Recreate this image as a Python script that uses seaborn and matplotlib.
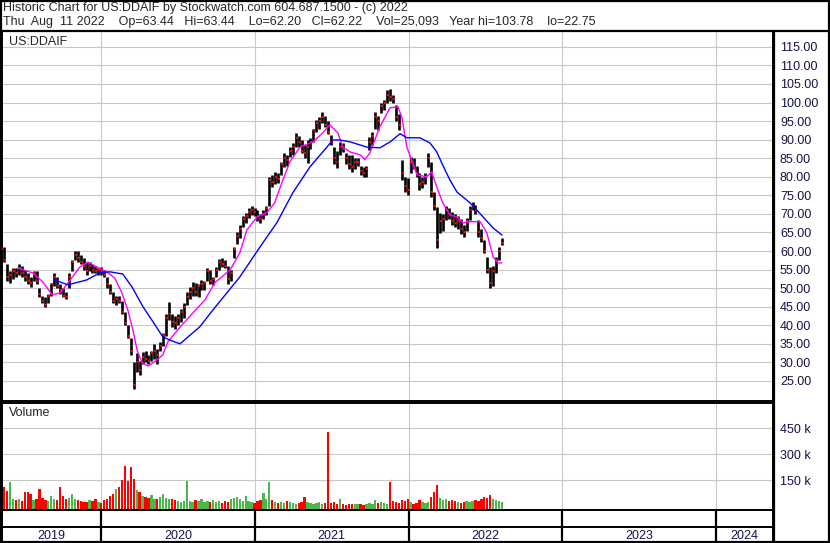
import numpy as np
import pandas as pd
import matplotlib
matplotlib.use("Agg")
import matplotlib.pyplot as plt
from matplotlib.lines import Line2D
from matplotlib.ticker import FuncFormatter
import seaborn as sns

# Weekly bars, the last one is Thu Aug 11 2022
bar_dates = pd.date_range(end="2022-08-11", periods=171, freq="7D")

bar_high = [63.5, 61.0, 56.5, 54.5, 55.5, 55.5, 56.5, 56.0, 55.0, 54.0,
            53.0, 54.5, 54.5, 50.0, 48.0, 47.5, 48.5, 51.5, 54.0, 53.0,
            51.0, 50.0, 49.0, 54.0, 57.5, 60.0, 60.0, 59.0, 58.0, 57.0,
            57.0, 56.5, 56.0, 55.5, 55.7, 55.0, 53.0, 51.0, 49.0, 48.0,
            48.0, 46.5, 43.5, 40.0, 36.5, 30.0, 32.5, 30.5, 32.8, 33.0,
            32.0, 33.0, 35.0, 33.5, 35.5, 38.0, 43.0, 46.3, 43.0, 42.5,
            43.0, 44.5, 46.0, 49.0, 50.3, 51.7, 51.5, 51.0, 52.2, 52.0,
            55.4, 55.0, 53.0, 55.7, 57.9, 58.0, 57.5, 56.0, 55.0, 61.0,
            65.0, 67.0, 69.5, 70.3, 71.5, 72.0, 71.5, 71.0, 70.0, 71.0,
            72.2, 80.0, 80.5, 81.3, 81.0, 84.0, 86.4, 86.0, 88.0, 89.0,
            91.8, 91.0, 90.0, 88.5, 90.0, 90.5, 93.0, 95.3, 96.0, 97.5,
            96.5, 95.0, 91.3, 88.0, 87.0, 89.4, 89.0, 86.5, 86.0, 86.0,
            85.0, 85.0, 83.0, 82.7, 83.0, 90.7, 92.0, 97.5, 96.5, 100.0,
            100.7, 103.4, 103.78, 102.0, 99.4, 97.0, 84.6, 80.0, 79.7, 85.4,
            85.0, 83.0, 81.0, 80.0, 81.0, 86.4, 84.0, 76.0, 71.9, 70.3,
            70.0, 72.0, 71.5, 70.5, 70.0, 69.5, 68.5, 67.0, 69.0, 72.0,
            73.2, 72.5, 68.4, 66.0, 63.0, 58.4, 55.7, 56.0, 58.4, 61.0, 63.5]

bar_low = [59.0, 57.0, 52.0, 51.5, 52.5, 53.0, 53.5, 53.0, 52.0, 51.0,
           50.3, 52.0, 51.0, 47.5, 46.0, 45.0, 46.0, 48.0, 50.5, 50.0,
           48.5, 47.5, 47.0, 50.0, 54.5, 57.5, 57.0, 56.5, 55.0, 53.5,
           54.5, 54.0, 54.0, 53.5, 53.6, 53.0, 50.0, 48.5, 46.0, 45.5,
           46.0, 43.0, 40.0, 36.6, 32.0, 22.75, 27.5, 26.5, 29.5, 30.0,
           29.5, 30.5, 31.0, 29.5, 33.0, 34.5, 37.0, 41.5, 39.5, 39.0,
           40.0, 41.0, 42.0, 45.5, 47.0, 48.0, 48.0, 47.6, 49.5, 49.5,
           52.0, 51.0, 50.9, 53.0, 55.0, 55.7, 55.5, 51.0, 52.0, 58.0,
           62.0, 63.5, 66.5, 67.5, 69.0, 69.7, 69.5, 68.0, 67.6, 68.5,
           69.7, 72.0, 77.3, 78.0, 78.4, 80.5, 82.7, 83.0, 85.4, 86.0,
           88.0, 88.0, 86.4, 85.0, 83.7, 87.5, 89.5, 92.0, 93.0, 94.5,
           93.5, 91.5, 88.6, 83.5, 82.4, 86.0, 86.7, 83.5, 82.0, 81.3,
           82.0, 83.0, 80.5, 80.0, 80.0, 87.2, 88.5, 93.0, 92.6, 97.2,
           98.0, 100.0, 100.5, 99.9, 95.0, 92.6, 79.2, 76.0, 75.1, 81.0,
           82.0, 80.0, 76.5, 77.0, 78.0, 82.7, 74.6, 71.0, 60.8, 64.9,
           65.5, 68.4, 68.5, 67.0, 66.5, 66.0, 64.5, 63.8, 65.5, 68.4,
           71.0, 70.0, 63.8, 62.5, 59.5, 54.1, 50.0, 50.5, 54.0, 57.5, 61.6]

bar_close = [60.5, 57.5, 53.0, 53.5, 54.5, 54.0, 55.5, 54.0, 53.0, 52.0,
             51.5, 54.0, 52.0, 48.5, 46.5, 45.5, 48.0, 51.0, 53.0, 50.5,
             49.5, 48.0, 47.5, 53.0, 57.0, 59.0, 58.0, 57.0, 56.0, 54.5,
             56.0, 55.0, 54.5, 55.0, 54.5, 53.5, 51.0, 49.0, 46.5, 47.0,
             46.5, 43.5, 40.5, 37.0, 33.0, 24.0, 30.0, 28.0, 31.5, 31.0,
             30.5, 32.5, 33.0, 32.0, 34.5, 37.5, 42.0, 43.0, 41.0, 40.5,
             42.0, 43.5, 45.0, 47.5, 49.0, 50.0, 49.0, 50.5, 51.0, 51.5,
             54.5, 52.0, 52.5, 55.0, 57.0, 56.5, 56.0, 52.5, 54.0, 60.5,
             64.0, 66.0, 68.5, 69.5, 70.5, 71.0, 70.5, 69.5, 68.5, 70.0,
             71.5, 79.0, 78.5, 80.0, 79.5, 83.5, 85.0, 84.5, 87.0, 88.0,
             90.5, 89.5, 87.0, 86.5, 88.0, 89.5, 92.5, 94.5, 95.0, 96.0,
             94.0, 92.0, 89.5, 85.0, 84.0, 88.0, 87.5, 85.0, 83.5, 82.5,
             84.0, 84.0, 81.5, 81.0, 82.0, 89.5, 91.0, 96.0, 95.0, 99.0,
             100.0, 102.0, 101.5, 101.0, 96.0, 94.0, 81.0, 77.5, 76.5, 84.0,
             83.0, 81.0, 78.0, 78.5, 80.0, 85.0, 76.0, 72.0, 63.0, 68.0,
             68.5, 71.0, 70.0, 68.0, 67.5, 68.0, 66.0, 65.0, 68.0, 71.0,
             72.0, 71.0, 65.0, 63.5, 60.0, 55.0, 51.5, 54.5, 57.5, 60.0, 62.22]

# volume in thousands
volume_k = [100, 110, 90, 140, 40, 35, 45, 30, 80, 80,
            70, 35, 45, 100, 50, 35, 30, 60, 40, 35,
            110, 60, 45, 50, 70, 45, 35, 30, 25, 25,
            35, 30, 40, 25, 20, 35, 45, 60, 70, 100,
            110, 150, 235, 145, 225, 160, 95, 80, 60, 55,
            50, 65, 45, 40, 55, 70, 50, 45, 40, 35,
            30, 25, 30, 145, 30, 25, 35, 30, 40, 25,
            30, 25, 35, 25, 30, 20, 30, 25, 45, 50,
            55, 45, 30, 60, 30, 25, 20, 30, 35, 75,
            45, 140, 35, 25, 20, 25, 20, 30, 25, 20,
            15, 20, 25, 55, 25, 20, 15, 20, 25, 15,
            20, 430, 20, 25, 15, 40, 15, 10, 15, 12,
            15, 12, 15, 10, 15, 20, 15, 35, 20, 25,
            20, 15, 140, 30, 25, 20, 35, 30, 40, 25,
            15, 20, 35, 25, 20, 25, 55, 80, 125, 50,
            35, 40, 30, 35, 30, 25, 20, 25, 30, 25,
            30, 35, 30, 45, 55, 50, 65, 45, 35, 30, 25]

# moving averages
ma_fast_dates = ["2019-06-18", "2019-07-23", "2019-08-16", "2019-09-07", "2019-09-26",
                 "2019-10-15", "2019-11-12", "2019-12-01", "2019-12-22", "2020-01-15",
                 "2020-02-03", "2020-02-20", "2020-03-05", "2020-03-17", "2020-03-27",
                 "2020-04-07", "2020-04-22", "2020-05-13", "2020-05-27", "2020-06-08",
                 "2020-07-07", "2020-08-04", "2020-09-04", "2020-09-28", "2020-11-03",
                 "2020-11-26", "2020-12-13", "2021-01-06", "2021-01-29", "2021-02-17",
                 "2021-03-06", "2021-03-25", "2021-04-18", "2021-05-19", "2021-06-11",
                 "2021-06-28", "2021-07-17", "2021-07-29", "2021-08-15", "2021-09-08",
                 "2021-09-19", "2021-10-01", "2021-10-25", "2021-11-18", "2021-12-07",
                 "2021-12-16", "2021-12-28", "2022-01-21", "2022-02-13", "2022-02-25",
                 "2022-03-09", "2022-03-23", "2022-04-09", "2022-04-26", "2022-05-10",
                 "2022-05-27", "2022-06-20", "2022-07-06", "2022-07-21", "2022-08-01",
                 "2022-08-11"]
ma_fast = [55.4, 54.1, 51.7, 48.2, 48.7, 51.4, 55.7, 57.0, 55.7, 54.4,
           52.7, 48.7, 44.1, 38.7, 33.3, 30.1, 29.0, 30.7, 32.0, 35.5,
           39.5, 43.0, 46.8, 51.5, 54.9, 59.5, 65.7, 69.2, 70.3, 73.0,
           78.4, 84.0, 88.0, 89.4, 91.8, 94.0, 91.8, 88.0, 86.7, 85.9,
           84.6, 86.4, 93.5, 98.6, 98.8, 96.0, 88.0, 80.5, 80.0, 81.3,
           77.3, 73.0, 69.7, 69.2, 67.6, 67.9, 67.9, 64.9, 58.4, 56.8,
           56.8]

ma_slow_dates = ["2019-09-13", "2019-10-15", "2019-11-28", "2019-12-29", "2020-01-22",
                 "2020-02-22", "2020-03-15", "2020-04-10", "2020-05-04", "2020-05-27",
                 "2020-06-13", "2020-07-07", "2020-08-23", "2020-09-23", "2020-11-26",
                 "2021-01-13", "2021-02-22", "2021-04-01", "2021-05-12", "2021-06-21",
                 "2021-07-05", "2021-07-22", "2021-08-15", "2021-09-24", "2021-10-25",
                 "2021-11-18", "2021-12-12", "2021-12-28", "2022-01-28", "2022-02-21",
                 "2022-03-09", "2022-03-23", "2022-04-09", "2022-04-26", "2022-05-27",
                 "2022-06-27", "2022-07-21", "2022-08-11"]
ma_slow = [52.2, 50.9, 52.2, 54.1, 54.4, 53.8, 50.3, 45.0, 40.9, 36.9,
           36.0, 35.0, 39.6, 44.1, 53.0, 61.1, 67.6, 75.7, 82.7, 88.0,
           89.9, 89.9, 89.4, 88.0, 87.8, 89.4, 91.6, 90.5, 90.5, 89.1,
           86.7, 83.2, 79.2, 75.9, 73.0, 69.2, 66.2, 64.3]

price_ticks = list(range(25, 120, 5))
volume_ticks = [150, 300, 450]
years = [2019, 2020, 2021, 2022, 2023, 2024]

header_1 = "Historic Chart for US:DDAIF by Stockwatch.com 604.687.1500 - (c) 2022"
header_2 = ("Thu  Aug  11 2022    Op=63.44   Hi=63.44    Lo=62.20   Cl=62.22    "
            "Vol=25,093   Year hi=103.78    lo=22.75")

# ---- layout in pixels of the 830x543 picture
W, H = 830, 543
def fx(px):
    return px / W
def fy(py):
    return 1 - py / H

sns.set_style("white")
plt.rcParams['font.family'] = ['Liberation Sans', 'DejaVu Sans']
navy = "#14144a"
grid_col = "#c8c8c8"

fig = plt.figure(figsize=(W / 100, H / 100), dpi=100)
fig.patch.set_facecolor("white")

left, right = 2, 773
ax = fig.add_axes([fx(left), fy(401), fx(right) - fx(left), fy(32) - fy(401)])
axv = fig.add_axes([fx(left), fy(510), fx(right) - fx(left), fy(403) - fy(510)])
axd = fig.add_axes([fx(left), fy(527), fx(right) - fx(left), fy(510) - fy(527)])
axy = fig.add_axes([fx(left), fy(541), fx(right) - fx(left), fy(527) - fy(541)])

x_start = pd.Timestamp("2019-05-11")
x_end = pd.Timestamp("2024-05-16")
year_starts = [pd.Timestamp(f"{y}-01-01") for y in years[1:]]

# ---- price panel
ax.vlines(bar_dates, bar_low, bar_high, colors="black", lw=1.9, zorder=3)
sns.scatterplot(x=bar_dates + pd.Timedelta(days=2), y=bar_close, color="red",
                marker="s", s=3.5, linewidth=0, ax=ax, zorder=4)
sns.lineplot(x=pd.to_datetime(ma_fast_dates), y=ma_fast, color="#ff00ff",
             lw=1.0, ax=ax, zorder=5)
sns.lineplot(x=pd.to_datetime(ma_slow_dates), y=ma_slow, color="#0000ff",
             lw=1.0, ax=ax, zorder=5)

ax.set_ylim(19.6, 119.0)
ax.set_yticks(price_ticks)
ax.yaxis.tick_right()
ax.yaxis.set_major_formatter(FuncFormatter(lambda v, p: f"{v:.2f}"))
ax.tick_params(axis="y", length=0, pad=5, labelsize=9, labelcolor=navy)

# ---- volume panel
closes = np.array(bar_close)
up = np.r_[False, np.diff(closes) >= 0]
vol_colors = np.where(up, "#4cb84c", "#ff0000")
vol_floor = -21
axv.bar(bar_dates, np.array(volume_k) - vol_floor, bottom=vol_floor, width=5.5,
        color=vol_colors, linewidth=0, zorder=3)
axv.set_ylim(vol_floor, 596)
axv.set_yticks(volume_ticks)
axv.yaxis.tick_right()
axv.yaxis.set_major_formatter(FuncFormatter(lambda v, p: f"{int(v)} k"))
axv.tick_params(axis="y", length=0, pad=5, labelsize=9, labelcolor=navy)

for a in (ax, axv):
    a.set_xlim(x_start, x_end)
    a.set_xticks(year_starts)
    a.set_xticklabels([])
    a.tick_params(axis="x", length=0)
    a.set_xlabel("")
    a.set_ylabel("")
    a.grid(True, color=grid_col, lw=0.8, zorder=0)
    a.set_axisbelow(True)
    for s in a.spines.values():
        s.set_color("black")
        s.set_linewidth(1.4)
ax.spines["top"].set_visible(False)
axv.spines["bottom"].set_linewidth(2)

# ---- date bands under the volume
for a in (axd, axy):
    a.set_xlim(x_start, x_end)
    a.set_ylim(0, 1)
    a.set_xticks([])
    a.set_yticks([])
    for s in a.spines.values():
        s.set_color("black")
        s.set_linewidth(1.4)
    for d in year_starts:
        a.axvline(d, color="black", lw=1.6)
axd.spines["bottom"].set_linewidth(2)
axy.spines["bottom"].set_visible(False)

for y in years:
    lo = max(pd.Timestamp(f"{y}-01-01"), x_start)
    hi = min(pd.Timestamp(f"{y + 1}-01-01"), x_end)
    axy.text(lo + (hi - lo) / 2, 0.35, str(y), ha="center", va="center",
             fontsize=9, color=navy)

# ---- header, labels and frame
fig.text(fx(3), fy(8.5), header_1, ha="left", va="center", fontsize=9)
fig.text(fx(3), fy(22), header_2, ha="left", va="center", fontsize=9)
fig.text(fx(9), fy(42), "US:DDAIF", ha="left", va="center", fontsize=9)
fig.text(fx(9), fy(413), "Volume", ha="left", va="center", fontsize=9)

def fig_line(x0, y0, x1, y1, lw):
    fig.add_artist(Line2D([fx(x0), fx(x1)], [fy(y0), fy(y1)], color="black",
                          lw=lw, transform=fig.transFigure))

fig_line(0, 31, W, 31, 1.6)
fig_line(right + 1, 31, right + 1, H, 1.6)
fig_line(1, 0, 1, H, 1.6)
fig_line(W - 1.5, 0, W - 1.5, H, 1.6)
fig_line(0, 1, W, 1, 1.6)
fig_line(0, H - 1.5, W, H - 1.5, 1.6)

fig.savefig("out.png", dpi=100, facecolor="white")
